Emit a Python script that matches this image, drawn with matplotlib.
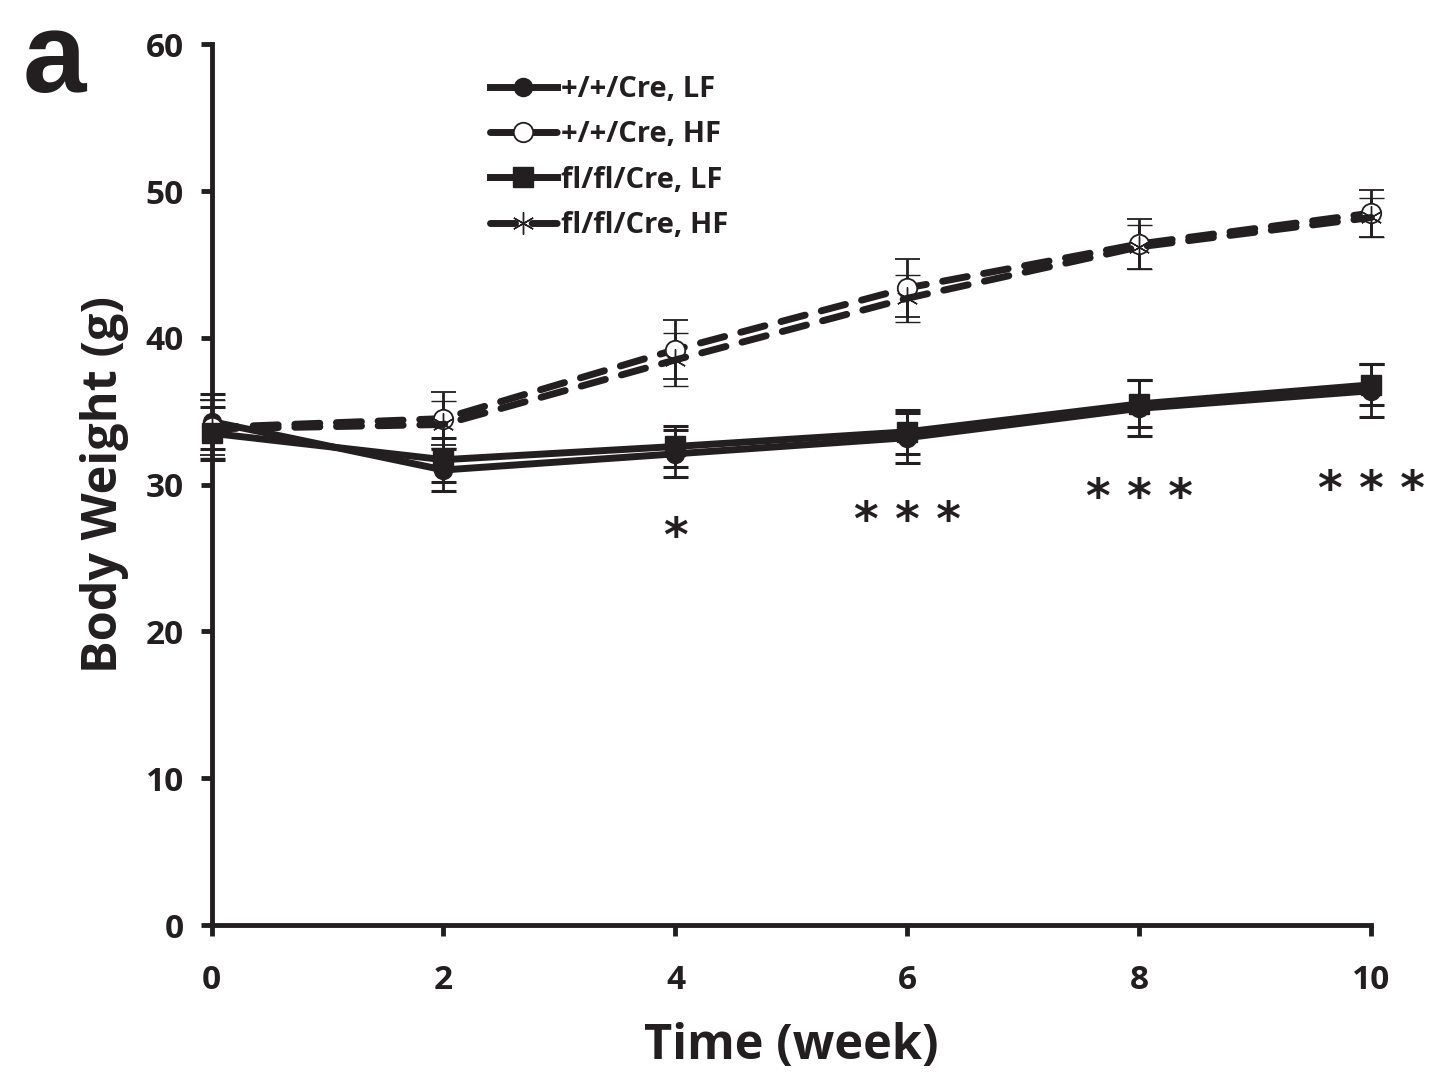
import numpy as np
import matplotlib.pyplot as plt

plt.rcParams['font.family'] = ['Open Sans', 'DejaVu Sans']
plt.rcParams['font.weight'] = 'bold'

# time points (week)
weeks = [0, 2, 4, 6, 8, 10]

# body weight means (g) and error (g)
wt_lf = [34.3, 31.0, 32.1, 33.2, 35.2, 36.4]
wt_lf_err = [1.9, 1.4, 1.6, 1.7, 1.9, 1.8]
wt_hf = [33.9, 34.5, 39.2, 43.4, 46.4, 48.5]
wt_hf_err = [1.9, 1.8, 2.0, 2.0, 1.7, 1.6]
ko_lf = [33.5, 31.7, 32.6, 33.6, 35.5, 36.8]
ko_lf_err = [1.8, 1.5, 1.4, 1.5, 1.6, 1.4]
ko_hf = [33.8, 34.1, 38.5, 42.7, 46.2, 48.2]
ko_hf_err = [2.0, 1.6, 1.8, 1.6, 1.5, 1.3]

labels = ['+/+/Cre, LF', '+/+/Cre, HF', 'fl/fl/Cre, LF', 'fl/fl/Cre, HF']

# significance marks
star_x = [4, 6, 8, 10]
star_y = [26.3, 27.4, 29.0, 29.5]
star_txt = ['*', '* * *', '* * *', '* * *']

ink = '#231f20'

fig = plt.figure(figsize=(14.39, 10.8), dpi=100)
ax = fig.add_axes([0.147, 0.1435, 0.806, 0.8155])

lw = 5
dash = (3.6, 2.4)
err_kw = dict(ecolor=ink, elinewidth=2, capsize=9, capthick=2.2)

series = [
    (wt_lf, wt_lf_err, '-', dict(marker='o', markersize=13, markerfacecolor=ink)),
    (wt_hf, wt_hf_err, '--', dict(marker='o', markersize=14, markerfacecolor='white', markeredgewidth=1.3)),
    (ko_lf, ko_lf_err, '-', dict(marker='s', markersize=14, markerfacecolor=ink)),
    (ko_hf, ko_hf_err, '--', dict(marker=(6, 2, 0), markersize=16, markeredgewidth=1.0)),
]

lines = []
for (y, e, ls, mk), lab in zip(series, labels):
    line, caps, bars = ax.errorbar(weeks, y, yerr=e, color=ink, lw=lw,
                                   linestyle=ls, markeredgecolor=ink,
                                   label=lab, clip_on=False, zorder=3, **mk, **err_kw)
    if ls == '--':
        line.set_dashes(dash)
        line.set_dash_capstyle('round')
    for c in caps:
        c.set_clip_on(False)
    for b in bars:
        b.set_clip_on(False)
    lines.append(line)

for sx, sy, st in zip(star_x, star_y, star_txt):
    ax.text(sx, sy, st, ha='center', va='center', fontsize=34, color=ink,
            family=['DejaVu Sans'])

ax.set_xlim(0, 10)
ax.set_ylim(0, 60)
ax.set_xticks(weeks)
ax.set_yticks(np.arange(0, 61, 10))
ax.tick_params(direction='out', length=8, width=3.5, labelsize=24, colors=ink)
ax.tick_params(axis='x', pad=20)
ax.tick_params(axis='y', pad=12)

for s in ['top', 'right']:
    ax.spines[s].set_visible(False)
for s in ['left', 'bottom']:
    ax.spines[s].set_linewidth(3.5)
    ax.spines[s].set_color(ink)

ax.set_xlabel('Time (week)', fontsize=35, fontweight='bold', labelpad=18, color=ink)
ax.set_ylabel('Body Weight (g)', fontsize=35, fontweight='bold', labelpad=12, color=ink)

ax.legend(lines, labels, loc='upper left', bbox_to_anchor=(0.322, 0.955),
          bbox_transform=fig.transFigure, frameon=False, fontsize=21,
          handlelength=2.3, handletextpad=0.15, labelspacing=0.56,
          labelcolor=ink)

fig.text(0.016, 0.915, 'a', fontsize=82, fontweight='bold', va='baseline',
         family=['Liberation Sans', 'DejaVu Sans'], color=ink)

fig.savefig('out.png', dpi=100)
